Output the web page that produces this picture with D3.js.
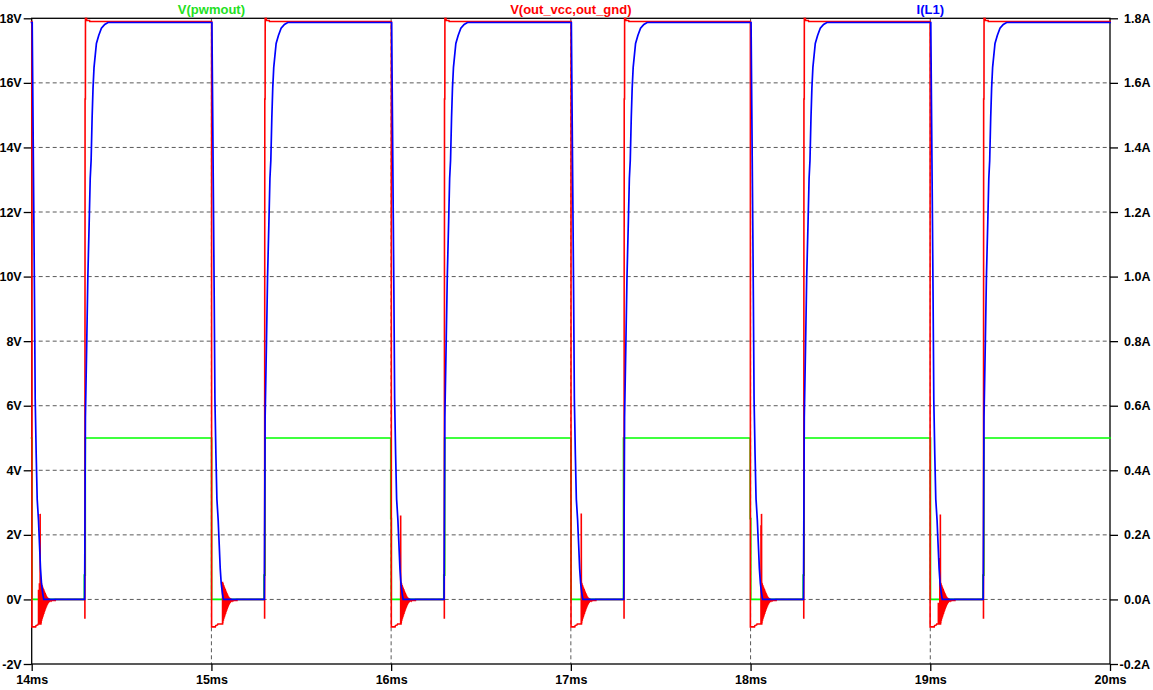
<!DOCTYPE html>
<html><head><meta charset="utf-8">
<script src="https://cdn.jsdelivr.net/npm/d3@7"></script>
<style>
html,body{margin:0;padding:0;background:#fff;}
svg{display:block;}
text{font-family:"Liberation Sans",Arial,sans-serif;font-weight:bold;font-size:12.5px;}
</style></head><body>
<svg id="chart" width="1153" height="690"></svg>
<script>
// ---------- DATA ----------
const xTicks = [14, 15, 16, 17, 18, 19, 20];
const xTickLabels = ["14ms", "15ms", "16ms", "17ms", "18ms", "19ms", "20ms"];
const vTicks = [-2, 0, 2, 4, 6, 8, 10, 12, 14, 16, 18];
const vTickLabels = ["-2V", "0V", "2V", "4V", "6V", "8V", "10V", "12V", "14V", "16V", "18V"];
const aTicks = [-0.2, 0, 0.2, 0.4, 0.6, 0.8, 1.0, 1.2, 1.4, 1.6, 1.8];
const aTickLabels = ["-0.2A", "0.0A", "0.2A", "0.4A", "0.6A", "0.8A", "1.0A", "1.2A", "1.4A", "1.6A", "1.8A"];
const seriesNames = ["V(pwmout)", "V(out_vcc,out_gnd)", "I(L1)"];
const seriesLabelAt = [15, 17, 19];

// switching edges (ms)
const fallTimes = [14, 15, 16, 17, 18, 19];
const riseTimes = [14.3, 15.3, 16.3, 17.3, 18.3, 19.3];

// V(pwmout): 0 / 5 V, with intermediate level seen on some edges
const pwmHigh = 5;
const pwmFallMid = [5, 5, 2.5, 5, 2.5, 5];
const pwmRiseMid = [0.75, 0.75, 0.75, 5, 0.75, 0.75];

// I(L1): shape after falling edge (dt ms, A) and after rising edge
const ilFallDt = [0.0028, 0.0067, 0.0122, 0.0156, 0.0195, 0.025, 0.0306, 0.0378, 0.0434, 0.049, 0.0545, 0.0612, 0.0668];
const ilFallA  = [1.787, 1.53, 1.165, 0.93, 0.62, 0.45, 0.31, 0.245, 0.17, 0.096, 0.05, 0.019, 0];
const ilRiseDt = [-0.0056, -0.0045, -0.0011, 0.0067, 0.0122, 0.02, 0.0256, 0.0306, 0.0362, 0.0412, 0.0468, 0.0601, 0.0729, 0.0879, 0.1063, 0.1247];
const ilRiseA  = [0, 0.13, 0.564, 0.809, 0.994, 1.171, 1.304, 1.36, 1.493, 1.583, 1.648, 1.722, 1.747, 1.769, 1.781, 1.787];
const ilHigh = 1.787;

// V(out_vcc,out_gnd)
const outHigh = 17.9;
const outFallShift = [0, 0, 0, 0, -0.002, -0.002];
const outFallDt = [0.001, 0.001, 0.022, 0.024, 0.034, 0.036];
const outFallV  = [17.9, -0.85, -0.85, -0.81, -0.79, -0.76];
const outBase = -0.76;
const spikeDt = [[0.038, 0.043, 0.047], [], [0.053], [0.058], [0.058, 0.061], [0.045, 0.053, 0.056]];
const spikeV  = [[0.3, 0.5, 2.65], [], [2.6], [2.66], [2.3, 2.65], [-0.1, 1.28, 2.63]];
const ringStart = [0.051, 0.062, 0.055, 0.059, 0.062, 0.057];
const ringStep = 0.0015;
const ringV = [0.55, -0.74, 0.5, -0.66, 0.45, -0.6, 0.4, -0.55, 0.36, -0.5, 0.32, -0.45, 0.28, -0.4, 0.24, -0.35,
               0.2, -0.3, 0.16, -0.26, 0.12, -0.22, 0.09, -0.18, 0.07, -0.15, 0.05, -0.12, 0.04, -0.1, 0.03, -0.08,
               0.02, -0.07, 0.01, -0.06, 0.01, -0.05, 0, -0.04];
const tailDt = [0.060, 0.080, 0.080];
const tailV  = [-0.03, -0.03, 0];
const outRiseDt = [-0.004, -0.004, -0.003, -0.0012, -0.0008, 0.005, 0.006, 0.022, 0.023];
const outRiseV  = [0, -0.6, 15.5, 15.5, 18.0, 18.0, 17.93, 17.93, 17.9];

// ---------- BUILD TRACES ----------
const pwm = [[13.99, pwmHigh]];
const out = [[13.99, outHigh]];
const il  = [[13.99, ilHigh]];
fallTimes.forEach((F, i) => {
  const Rt = riseTimes[i];
  // pwm
  pwm.push([F - 0.002, pwmHigh], [F - 0.002, pwmFallMid[i]], [F + 0.001, pwmFallMid[i]], [F + 0.001, 0]);
  pwm.push([Rt - 0.007, 0], [Rt - 0.007, pwmRiseMid[i]], [Rt - 0.002, pwmRiseMid[i]], [Rt - 0.002, pwmHigh]);
  // out
  outFallDt.forEach((d, k) => out.push([F + d + (k < 2 ? outFallShift[i] : 0), outFallV[k]]));
  spikeDt[i].forEach((d, k) => out.push([F + d, outBase], [F + d, spikeV[i][k]], [F + d + 0.0008, outBase]));
  const rs = F + ringStart[i];
  out.push([rs, outBase]);
  ringV.forEach((v, k) => out.push([rs + k * ringStep, v]));
  tailDt.forEach((d, k) => out.push([rs + d, tailV[k]]));
  outRiseDt.forEach((d, k) => out.push([Rt + d, outRiseV[k]]));
  // il
  ilFallDt.forEach((d, k) => il.push([F + d, ilFallA[k]]));
  ilRiseDt.forEach((d, k) => il.push([Rt + d, ilRiseA[k]]));
});
pwm.push([20.01, pwmHigh]);
out.push([20.01, outHigh]);
il.push([20.01, ilHigh]);

// ---------- DRAW ----------
const L = 31.7, R = 1110, T = 18.3, B = 664;
const svg = d3.select("#chart");
const x = d3.scaleLinear().domain([14, 20]).range([L, R]);
const yV = d3.scaleLinear().domain([-2, 18]).range([B, T]);
const yA = d3.scaleLinear().domain([-0.2, 1.8]).range([B, T]);

svg.append("defs").append("clipPath").attr("id", "clip")
  .append("rect").attr("x", L - 1).attr("y", T - 1).attr("width", R - L + 2).attr("height", B - T + 2);

const gridColor = "#5a5a5a";
const grid = svg.append("g");
grid.selectAll("line.h").data(vTicks.filter(v => v > -2 && v < 18)).enter().append("line")
  .attr("x1", L).attr("x2", R).attr("y1", d => yV(d)).attr("y2", d => yV(d))
  .attr("stroke", gridColor).attr("stroke-width", 1).attr("stroke-dasharray", "4,3");
grid.selectAll("line.v").data(xTicks.filter(v => v > 14 && v < 20)).enter().append("line")
  .attr("y1", T).attr("y2", B).attr("x1", d => x(d)).attr("x2", d => x(d))
  .attr("stroke", gridColor).attr("stroke-width", 1).attr("stroke-dasharray", "4,3");

// frame
svg.append("rect").attr("x", L).attr("y", T).attr("width", R - L).attr("height", B - T)
  .attr("fill", "none").attr("stroke", "#000").attr("stroke-width", 1.3);

// axes
const axL = d3.axisLeft(yV).tickValues(vTicks).tickFormat((d, i) => vTickLabels[i]).tickSize(8).tickPadding(2);
const axR = d3.axisRight(yA).tickValues(aTicks).tickFormat((d, i) => aTickLabels[i]).tickSize(8).tickPadding(6);
const axB = d3.axisBottom(x).tickValues(xTicks).tickFormat((d, i) => xTickLabels[i]).tickSize(7).tickPadding(4);
function styleAxis(g) {
  g.select(".domain").remove();
  g.selectAll(".tick line").attr("stroke", "#000").attr("stroke-width", 1.3);
  g.selectAll(".tick text").attr("fill", "#000")
    .style("font-family", '"Liberation Sans",Arial,sans-serif').style("font-weight", "bold").style("font-size", "12.5px");
}
svg.append("g").attr("transform", `translate(${L},0)`).call(axL).call(styleAxis);
const gR = svg.append("g").attr("transform", `translate(${R},0)`).call(axR).call(styleAxis);
// negative label: minus sign hangs to the left of the number column
gR.selectAll(".tick text").filter(d => d < 0).attr("x", 9.5);

svg.append("g").attr("transform", `translate(0,${B})`).call(axB).call(styleAxis);

// traces
const lineV = d3.line().x(d => x(d[0])).y(d => yV(d[1]));
const lineA = d3.line().x(d => x(d[0])).y(d => yA(d[1]));
const traces = svg.append("g").attr("clip-path", "url(#clip)");
traces.append("path").datum(pwm).attr("d", lineV).attr("fill", "none").attr("stroke", "#00ff00").attr("stroke-width", 1.7);
traces.append("path").datum(out).attr("d", lineV).attr("fill", "none").attr("stroke", "#ff0000").attr("stroke-width", 1.6);
traces.append("path").datum(il).attr("d", lineA).attr("fill", "none").attr("stroke", "#0000ff").attr("stroke-width", 1.7);

// legend labels
const labelColors = ["#22e022", "#ff0000", "#0000ff"];
svg.selectAll("text.series").data(seriesNames).enter().append("text")
  .attr("class", "series")
  .attr("x", (d, i) => x(seriesLabelAt[i])).attr("y", 13.5)
  .attr("text-anchor", "middle").attr("fill", (d, i) => labelColors[i])
  .style("font-size", "13px")
  .text(d => d);
</script>
</body></html>
